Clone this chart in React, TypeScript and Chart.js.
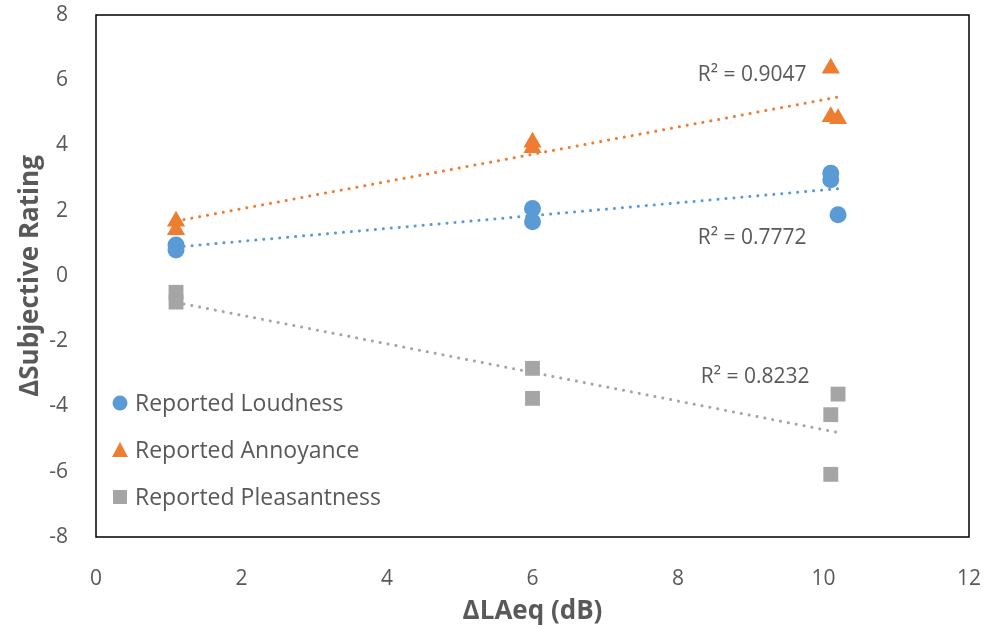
import { useEffect, useRef } from "react";
import { Chart, registerables } from "chart.js";

Chart.register(...registerables);

// ---- data ----
const xTickValues = [0, 2, 4, 6, 8, 10, 12];
const yTickValues = [-8, -6, -4, -2, 0, 2, 4, 6, 8];

const loudnessX = [1.1, 1.1, 6, 6, 10.1, 10.1, 10.2];
const loudnessY = [0.95, 0.8, 2.07, 1.66, 3.15, 2.95, 1.88];

const annoyanceX = [1.1, 1.1, 6, 6, 10.1, 10.1, 10.2];
const annoyanceY = [1.68, 1.42, 4.1, 3.93, 6.37, 4.88, 4.82];

const pleasantX = [1.1, 1.1, 6, 6, 10.1, 10.1, 10.2];
const pleasantY = [-0.5, -0.8, -2.83, -3.75, -4.25, -6.08, -3.62];

const seriesNames = ["Reported Loudness", "Reported Annoyance", "Reported Pleasantness"];
const r2Texts = ["R² = 0.7772", "R² = 0.9047", "R² = 0.8232"];
const r2AnchorX = [9.02, 9.02, 9.06];
const r2AnchorY = [1.15, 6.15, -3.1];

const xTitle = "ΔLAeq (dB)";
const yTitle = "ΔSubjective Rating";

// ---- styles ----
const COLORS = ["#5B9BD5", "#ED7D31", "#A5A5A5"];
const STYLES = ["circle", "triangle", "rect"];
const RADII = [8.5, 10.5, 10.5];
const TEXT = "#595959";
const FONT = "'Open Sans', 'Noto Sans', sans-serif";

function pts(xs: number[], ys: number[]) {
  return xs.map((x, i) => ({ x, y: ys[i] }));
}

function fitLine(xs: number[], ys: number[]) {
  const n = xs.length;
  const mx = xs.reduce((a, b) => a + b, 0) / n;
  const my = ys.reduce((a, b) => a + b, 0) / n;
  let sxy = 0;
  let sxx = 0;
  for (let i = 0; i < n; i++) {
    sxy += (xs[i] - mx) * (ys[i] - my);
    sxx += (xs[i] - mx) * (xs[i] - mx);
  }
  const b = sxy / sxx;
  const a = my - b * mx;
  const x0 = Math.min(...xs);
  const x1 = Math.max(...xs);
  return [
    { x: x0, y: a + b * x0 },
    { x: x1, y: a + b * x1 },
  ];
}

const overlayPlugin = {
  id: "overlay",
  afterDraw(chart: any) {
    const { ctx, chartArea, scales } = chart;
    ctx.save();
    // plot border
    ctx.strokeStyle = "#000000";
    ctx.lineWidth = 1.5;
    ctx.strokeRect(chartArea.left, chartArea.top, chartArea.right - chartArea.left, chartArea.bottom - chartArea.top);

    // R² labels
    ctx.fillStyle = TEXT;
    ctx.font = `21px ${FONT}`;
    ctx.textAlign = "center";
    ctx.textBaseline = "middle";
    r2Texts.forEach((t, i) => {
      ctx.fillText(t, scales.x.getPixelForValue(r2AnchorX[i]), scales.y.getPixelForValue(r2AnchorY[i]));
    });

    // legend
    const lx = chartArea.left + 24;
    const rows = [chartArea.top + 388, chartArea.top + 435, chartArea.top + 482];
    ctx.font = `23px ${FONT}`;
    ctx.textAlign = "left";
    seriesNames.forEach((name, i) => {
      const y = rows[i];
      ctx.fillStyle = COLORS[i];
      if (i === 0) {
        ctx.beginPath();
        ctx.arc(lx, y, 7.5, 0, Math.PI * 2);
        ctx.fill();
      } else if (i === 1) {
        ctx.beginPath();
        ctx.moveTo(lx, y - 8);
        ctx.lineTo(lx + 8, y + 7);
        ctx.lineTo(lx - 8, y + 7);
        ctx.closePath();
        ctx.fill();
      } else {
        ctx.fillRect(lx - 7, y - 7, 14, 14);
      }
      ctx.fillStyle = TEXT;
      ctx.fillText(name, lx + 15, y + 1);
    });
    ctx.restore();
  },
};

export default function App() {
  const ref = useRef<HTMLCanvasElement | null>(null);

  useEffect(() => {
    if (!ref.current) return;
    const xsList = [loudnessX, annoyanceX, pleasantX];
    const ysList = [loudnessY, annoyanceY, pleasantY];

    const trendSets = xsList.map((xs, i) => ({
      type: "line" as const,
      label: seriesNames[i] + " trend",
      data: fitLine(xs, ysList[i]),
      borderColor: COLORS[i],
      borderWidth: 3,
      borderDash: [0.1, 7.9],
      borderCapStyle: "round" as const,
      pointRadius: 0,
      fill: false,
      order: 2,
    }));

    const pointSets = xsList.map((xs, i) => ({
      type: "scatter" as const,
      label: seriesNames[i],
      data: pts(xs, ysList[i]),
      backgroundColor: COLORS[i],
      borderColor: COLORS[i],
      borderWidth: 0,
      pointStyle: STYLES[i] as any,
      pointRadius: RADII[i],
      order: 1,
    }));

    const chart = new Chart(ref.current, {
      type: "scatter",
      data: { datasets: [...trendSets, ...pointSets] as any },
      options: {
        responsive: false,
        animation: false,
        layout: { padding: { top: 15, right: 18, left: 0, bottom: 0 } },
        plugins: {
          legend: { display: false },
          tooltip: { enabled: false },
        },
        scales: {
          x: {
            type: "linear",
            min: 0,
            max: 12,
            afterBuildTicks: (s: any) => {
              s.ticks = xTickValues.map((v) => ({ value: v }));
            },
            afterFit: (s: any) => {
              s.height = 97;
              s.paddingLeft = 0;
              s.paddingRight = 0;
            },
            grid: { display: false },
            border: { display: false },
            ticks: {
              color: TEXT,
              font: { family: FONT, size: 21 },
              padding: 21,
            },
            title: {
              display: true,
              text: xTitle,
              color: TEXT,
              font: { family: FONT, size: 26, weight: "bold" },
              padding: { top: 0, bottom: 7 },
            },
          },
          y: {
            type: "linear",
            min: -8,
            max: 8,
            afterBuildTicks: (s: any) => {
              s.ticks = yTickValues.map((v) => ({ value: v }));
            },
            afterFit: (s: any) => {
              s.width = 96;
              s.paddingTop = 0;
              s.paddingBottom = 0;
            },
            grid: { display: false },
            border: { display: false },
            ticks: {
              color: TEXT,
              font: { family: FONT, size: 21 },
              padding: 20,
            },
            title: {
              display: true,
              text: yTitle,
              color: TEXT,
              font: { family: FONT, size: 26, weight: "bold" },
              padding: { top: 15, bottom: 0 },
            },
          },
        },
      },
      plugins: [overlayPlugin],
    });
    return () => chart.destroy();
  }, []);

  return (
    <div style={{ position: "fixed", left: 0, top: 0, width: 987, height: 634, background: "#fff" }}>
      <canvas ref={ref} width={987} height={634} style={{ width: 987, height: 634 }} />
    </div>
  );
}
